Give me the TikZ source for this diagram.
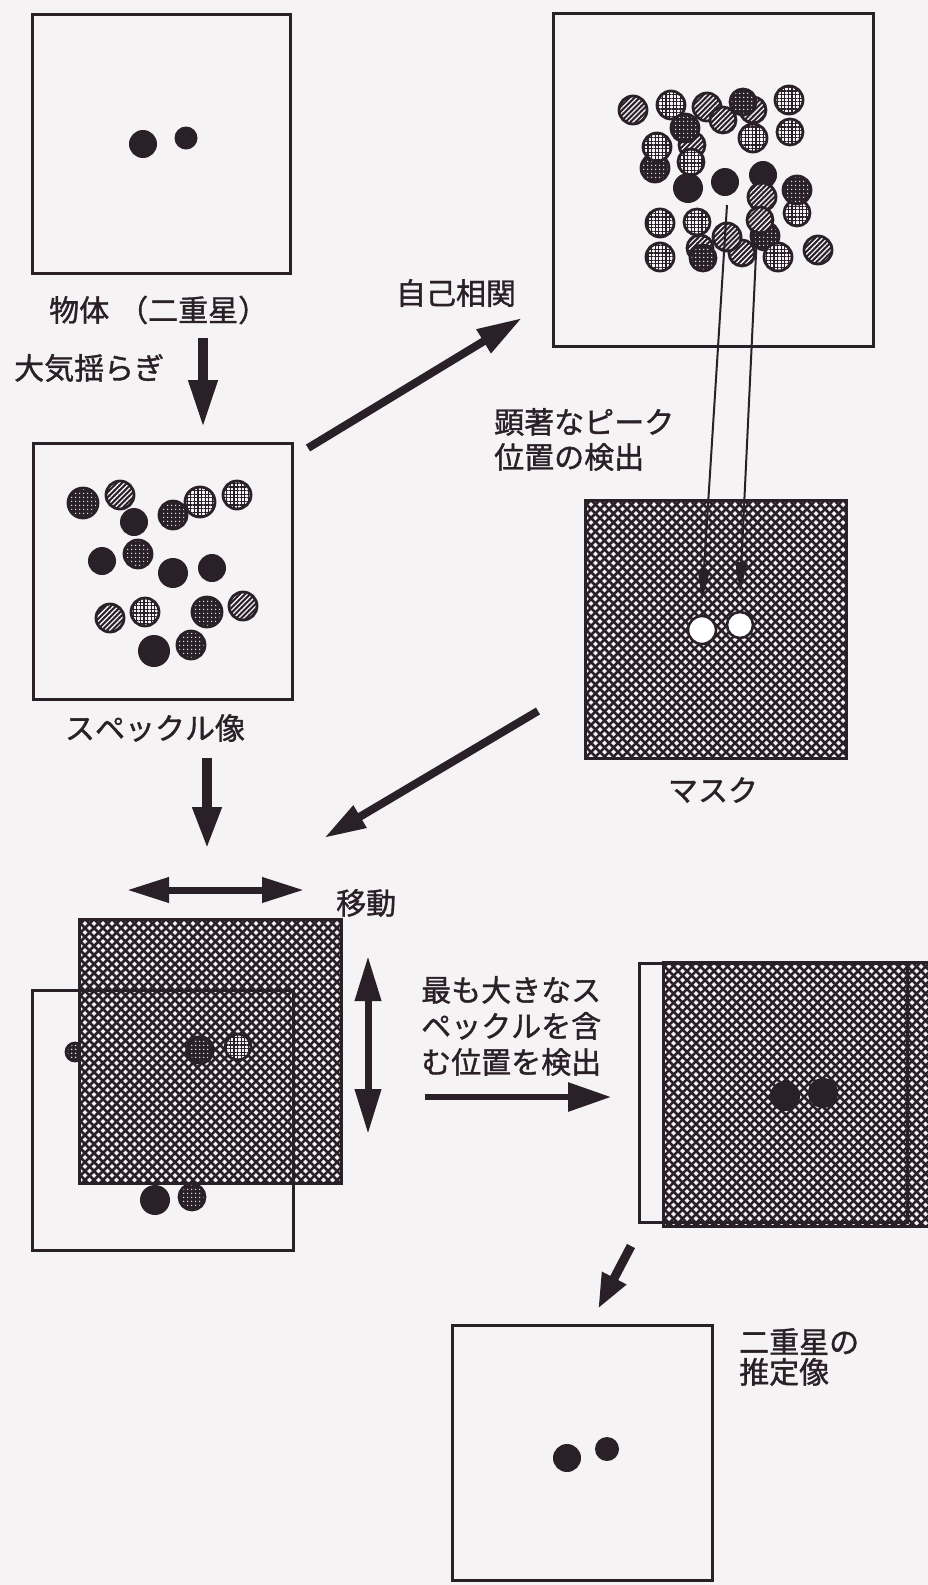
\documentclass[tikz,border=0pt]{standalone}
\usepackage{fontspec}
\newfontfamily\jp{Noto Sans CJK JP}[Kerning=Off,RawFeature={embolden=1.2}]
\usetikzlibrary{arrows.meta,patterns.meta}
\definecolor{ink}{RGB}{42,32,40}
\definecolor{paper}{RGB}{246,243,244}
\begin{document}
\begin{tikzpicture}[x=1pt,y=-1pt,
  box/.style={rectangle,draw=ink,line width=3pt,fill=paper,inner sep=0pt},
  frame/.style={rectangle,draw=ink,line width=3pt,inner sep=0pt},
  maskbox/.style={rectangle,draw=ink,line width=3pt,inner sep=0pt,fill=paper,
    path picture={\foreach \k in {-300,-291,...,600}{
      \draw[ink,line width=2.5pt] ([xshift=\k pt]path picture bounding box.north west) -- ++(300,300);
      \draw[ink,line width=2.5pt] ([xshift=\k pt]path picture bounding box.north west) -- ++(-300,300);}}},
  sD/.style={draw=ink,line width=2.8pt,preaction={fill=ink},
    pattern={Dots[radius=0.9pt,distance=4pt]},pattern color=paper},
  sL/.style={draw=ink,line width=2.8pt,preaction={fill=paper},
    pattern={Hatch[distance=3.6pt,line width=1.1pt]},pattern color=ink},
  sH/.style={draw=ink,line width=2.8pt,preaction={fill=ink},
    pattern={Lines[angle=45,distance=3.6pt,line width=1.3pt]},pattern color=paper},
  hole/.style={draw=ink,line width=2.6pt,fill=white},
  lbl/.style={font=\jp\fontsize{30}{35}\selectfont,text=ink,inner sep=0pt},
  fat/.style={draw=ink,line cap=butt},
  thin/.style={draw=ink,line width=2pt,-{Triangle[length=30pt,width=12pt]}}
]
\fill[paper] (0,0) rectangle (928,1585);
\useasboundingbox (0,0) rectangle (928,1585);

% ---- object (binary star)
\node[box,minimum width=258pt,minimum height=259pt] (obj) at (161,143.5) {};
\fill[ink] (143,144) circle (14pt);
\fill[ink] (186,138) circle (11.5pt);
\node[lbl,anchor=west] (tObj) at (49,310) {物体\hspace{9pt}（二重星）};
\node[lbl,anchor=west] (tAtm) at (14,368) {大気揺らぎ};

% ---- autocorrelation box
\node[box,minimum width=320pt,minimum height=333pt] (ac) at (713,179.5) {};
\draw[sH] (633,110) circle (14pt);
\draw[sL] (671,105) circle (14pt);
\draw[sH] (707,107) circle (14pt);
\draw[sH] (723,120) circle (13pt);
\draw[sH] (753,110) circle (13pt);
\draw[sD] (743,102) circle (13pt);
\draw[sL] (789,100) circle (14pt);
\draw[sL] (790,132) circle (13pt);
\draw[sL] (753,138) circle (14pt);
\draw[sH] (692,145) circle (13pt);
\draw[sD] (685,128) circle (14pt);
\draw[sL] (691,162) circle (13pt);
\draw[sD] (655,168) circle (14pt);
\draw[sL] (657,147) circle (14pt);
\fill[ink] (688,188) circle (15pt);
\fill[ink] (725,182) circle (14pt);
\fill[ink] (763,175) circle (14pt);
\draw[sH] (762,197) circle (14pt);
\draw[sL] (797,213) circle (13pt);
\draw[sD] (797,190) circle (14pt);
\draw[sL] (660,223) circle (14pt);
\draw[sL] (697,222) circle (13pt);
\draw[sD] (765,236) circle (14pt);
\draw[sH] (760,220) circle (13pt);
\draw[sL] (660,257) circle (14pt);
\draw[sH] (700,248) circle (13pt);
\draw[sD] (703,258) circle (13pt);
\draw[sH] (742,253) circle (13pt);
\draw[sH] (727,237) circle (14pt);
\draw[sL] (778,257) circle (14pt);
\draw[sH] (818,250) circle (14pt);
\node[lbl] (tAc) at (456,293) {自己相関};

% ---- speckle image
\node[box,minimum width=259pt,minimum height=256pt] (sp) at (162.5,571) {};
\draw[sD] (83,503) circle (15pt);
\draw[sH] (120,495) circle (14pt);
\fill[ink] (134,522) circle (14pt);
\draw[sD] (173,515) circle (14pt);
\draw[sL] (200,502) circle (15pt);
\draw[sL] (237,495) circle (14pt);
\fill[ink] (102,561) circle (14pt);
\draw[sD] (138,554) circle (14pt);
\fill[ink] (173,573) circle (15pt);
\fill[ink] (212,568) circle (14pt);
\draw[sH] (110,618) circle (14pt);
\draw[sL] (145,612) circle (14pt);
\draw[sD] (207,612) circle (15pt);
\draw[sH] (243,606) circle (14pt);
\fill[ink] (154,651) circle (16pt);
\draw[sD] (191,645) circle (14pt);
\node[lbl] (tSp) at (155,728) {スペックル像};

% ---- mask
\node[maskbox,minimum width=261pt,minimum height=258pt] (mask) at (715.5,629) {};
\draw[hole] (702,630) circle (14pt);
\draw[hole] (740,625) circle (13pt);
\node[lbl] (tMask) at (713,790) {マスク};
\node[lbl,anchor=west,align=left,font=\jp\fontsize{30}{35}\selectfont] (tPeak) at (494,439.5) {顕著なピーク\\位置の検出};

% detection arrows
\coordinate (p1s) at (727,205); \coordinate (p1e) at (702,600);
\coordinate (p2s) at (757,233); \coordinate (p2e) at (740,592);
\draw[thin] (p1s) -- (p1e);
\draw[thin] (p2s) -- (p2e);

% ---- moved mask over speckle image (lower left)
\node[box,minimum width=261pt,minimum height=260pt] (spM) at (162.5,1120) {};
\draw[sD] (75,1052) circle (9pt);
\fill[ink] (155,1200) circle (15pt);
\draw[sD] (192,1197) circle (13pt);
\node[maskbox,minimum width=262pt,minimum height=264pt] (maskM) at (210,1051) {};
\node[frame,minimum width=261pt,minimum height=260pt] (spMf) at (162.5,1120) {};
\draw[sD,line width=3.4pt] (200,1050) circle (13pt);
\draw[sL] (238,1047) circle (13pt);
\node[lbl,anchor=west] (tMove) at (336,903) {移動};

% ---- detected position (right)
\node[box,minimum width=268pt,minimum height=259pt] (spR) at (773,1092.5) {};
\node[maskbox,minimum width=272pt,minimum height=264pt] (maskR) at (799,1094) {};
\node[frame,minimum width=268pt,minimum height=259pt] (spRf) at (773,1092.5) {};
\fill[ink] (785,1096) circle (15pt);
\fill[ink] (823,1093) circle (15pt);
\node[lbl,anchor=west,align=left,font=\jp\fontsize{30}{36}\selectfont] (tMax) at (421,1026) {最も大きなス\\ペックルを含\\む位置を検出};

% ---- estimated image
\node[box,minimum width=260pt,minimum height=255pt] (est) at (582,1452.5) {};
\fill[ink] (567,1458) circle (14pt);
\fill[ink] (607,1449) circle (12pt);
\node[lbl,anchor=west,align=left,font=\jp\fontsize{30}{30}\selectfont] (tEst) at (739,1357) {二重星の\\推定像};

% ---- thick arrows
\coordinate (a1s) at (203,338); \coordinate (a1e) at (203,428);
\draw[fat,line width=10pt,-{Triangle[length=48pt,width=27pt]}] (a1s) -- (a1e);
\coordinate (a2s) at (308,448); \coordinate (a2e) at (522,318);
\draw[fat,line width=8pt,-{Triangle[length=45pt,width=26pt]}] (a2s) -- (a2e);
\coordinate (a3s) at (207,758); \coordinate (a3e) at (207,849);
\draw[fat,line width=10pt,-{Triangle[length=42pt,width=27pt]}] (a3s) -- (a3e);
\coordinate (a4s) at (538,711); \coordinate (a4e) at (324,838);
\draw[fat,line width=8pt,-{Triangle[length=42pt,width=24pt]}] (a4s) -- (a4e);
\coordinate (a5s) at (127,890); \coordinate (a5e) at (304,890);
\draw[fat,line width=7pt,{Triangle[length=42pt,width=24pt]}-{Triangle[length=42pt,width=24pt]}] (a5s) -- (a5e);
\coordinate (a6s) at (368,956); \coordinate (a6e) at (368,1134);
\draw[fat,line width=7pt,{Triangle[length=45pt,width=25pt]}-{Triangle[length=45pt,width=25pt]}] (a6s) -- (a6e);
\coordinate (a7s) at (425,1097); \coordinate (a7e) at (611,1097);
\draw[fat,line width=6pt,-{Triangle[length=43pt,width=28pt]}] (a7s) -- (a7e);
\coordinate (a8s) at (631,1246); \coordinate (a8e) at (598,1309);
\draw[fat,line width=9pt,-{Triangle[length=35pt,width=25pt]}] (a8s) -- (a8e);
\end{tikzpicture}
\end{document}
